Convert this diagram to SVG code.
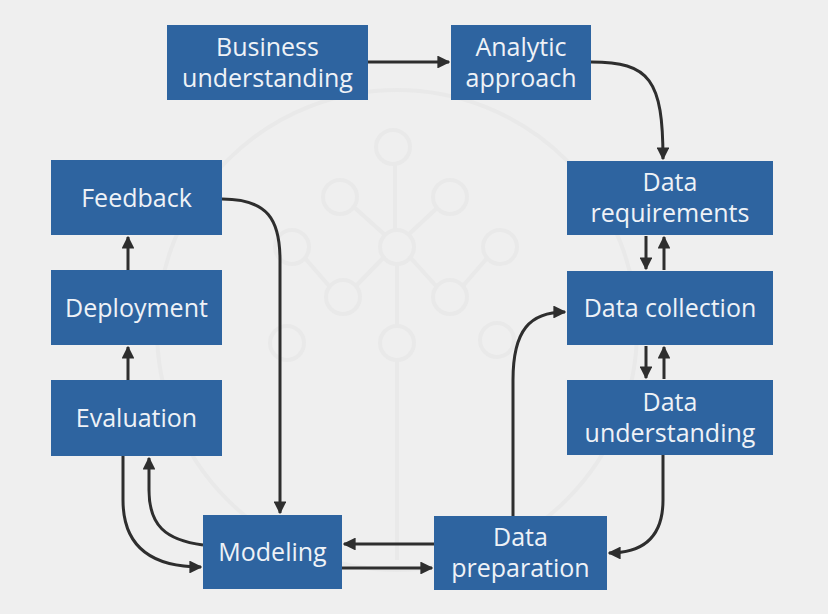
<svg xmlns="http://www.w3.org/2000/svg" width="828" height="614" viewBox="0 0 828 614">
<style>
.box{fill:#2e64a0;}
.lbl{font-family:"Open Sans","Noto Sans",sans-serif;font-size:25px;fill:#eef2f7;text-anchor:middle;}
.con{fill:none;stroke:#2e2e2e;stroke-width:3;marker-end:url(#ah);}
.wm{fill:none;stroke:#e9e9e9;stroke-width:4;}
</style>
<defs>
<marker id="ah" viewBox="0 0 10 10" refX="9" refY="5" markerWidth="4.3" markerHeight="4.3" orient="auto" markerUnits="strokeWidth">
<path d="M0,0 L10,5 L0,10 z" fill="#2e2e2e"/>
</marker>
</defs>
<rect width="828" height="614" fill="#efefef"/>
<g id="watermark">
<circle class="wm" cx="397" cy="330" r="240"/>
<circle class="wm" cx="393" cy="147" r="17"/>
<circle class="wm" cx="340" cy="197" r="17"/>
<circle class="wm" cx="450" cy="197" r="17"/>
<circle class="wm" cx="292" cy="247" r="17"/>
<circle class="wm" cx="397" cy="247" r="17"/>
<circle class="wm" cx="500" cy="247" r="17"/>
<circle class="wm" cx="343" cy="297" r="17"/>
<circle class="wm" cx="450" cy="297" r="17"/>
<circle class="wm" cx="287" cy="343" r="17"/>
<circle class="wm" cx="397" cy="343" r="17"/>
<circle class="wm" cx="497" cy="340" r="17"/>
<path class="wm" d="M395,164 V230 M397,264 V326 M397,360 V560 M355,208 L385,235 M437,208 L408,235 M409,256 L437,287 M385,256 L355,287 M304,257 L330,287 M488,257 L462,287"/>
</g>
<g id="connectors">
<path class="con" d="M368,62 H449"/>
<path class="con" d="M591,62 C650,62 663,80 663,159"/>
<path class="con" d="M646,236 V269"/>
<path class="con" d="M664,270 V237"/>
<path class="con" d="M646,346 V378"/>
<path class="con" d="M664,379 V347"/>
<path class="con" d="M663,455 V500 C663,540 640,553 609,553"/>
<path class="con" d="M513,516 V380 C513,330 530,312 565,312"/>
<path class="con" d="M434,544 H344"/>
<path class="con" d="M342,568 H432"/>
<path class="con" d="M222,199 C268,199 280,220 280,260 V513"/>
<path class="con" d="M123,456 V500 C123,545 150,567 201,567"/>
<path class="con" d="M203,545 C165,540 149,525 149,490 V458"/>
<path class="con" d="M128,380 V347"/>
<path class="con" d="M128,270 V237"/>
</g>
<g id="business-understanding"><rect class="box" x="167" y="25" width="201" height="75"/><text class="lbl" x="267.5" y="56">Business</text><text class="lbl" x="267.5" y="87">understanding</text></g>
<g id="analytic-approach"><rect class="box" x="451" y="25" width="140" height="75"/><text class="lbl" x="521" y="56">Analytic</text><text class="lbl" x="521" y="87">approach</text></g>
<g id="data-requirements"><rect class="box" x="567" y="161" width="206" height="74"/><text class="lbl" x="670" y="191">Data</text><text class="lbl" x="670" y="222">requirements</text></g>
<g id="data-collection"><rect class="box" x="567" y="271" width="206" height="74"/><text class="lbl" x="670" y="317">Data collection</text></g>
<g id="data-understanding"><rect class="box" x="567" y="380" width="206" height="75"/><text class="lbl" x="670" y="411">Data</text><text class="lbl" x="670" y="442">understanding</text></g>
<g id="data-preparation"><rect class="box" x="434" y="516" width="173" height="74"/><text class="lbl" x="520.5" y="546">Data</text><text class="lbl" x="520.5" y="577">preparation</text></g>
<g id="modeling"><rect class="box" x="203" y="515" width="139" height="74"/><text class="lbl" x="272.5" y="561">Modeling</text></g>
<g id="evaluation"><rect class="box" x="51" y="380" width="171" height="76"/><text class="lbl" x="136.5" y="427">Evaluation</text></g>
<g id="deployment"><rect class="box" x="51" y="270" width="171" height="75"/><text class="lbl" x="136.5" y="317">Deployment</text></g>
<g id="feedback"><rect class="box" x="51" y="160" width="171" height="75"/><text class="lbl" x="136.5" y="207">Feedback</text></g>
</svg>
